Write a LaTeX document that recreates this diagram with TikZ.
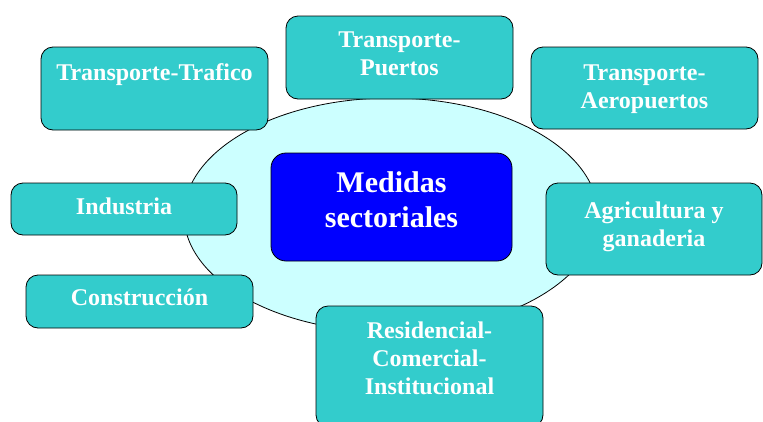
\documentclass[tikz,border=0pt]{standalone}
\usepackage{fontspec}
\setmainfont{Liberation Serif}
\usepackage{xcolor}
\definecolor{sectorteal}{HTML}{33CCCC}
\definecolor{hubcyan}{HTML}{CCFFFF}
\definecolor{hubblue}{HTML}{0000FF}
\tikzset{sector/.style={draw=black, fill=sectorteal, line width=.8pt, rounded corners=12pt,
  text=white, align=center, inner sep=0pt, font=\bfseries\fontsize{24}{28}\selectfont}}
\tikzset{hub/.style={draw=black, fill=hubblue, line width=.8pt, rounded corners=15pt,
  text=white, align=center, inner sep=0pt, font=\bfseries\fontsize{30}{35}\selectfont}}

\begin{document}
\begin{tikzpicture}[x=1pt,y=-1pt]
\clip (0,0) rectangle (763,421);
% ellipse behind the sectors
\filldraw[fill=hubcyan, draw=black, line width=.8pt] (391,215) ellipse [x radius=207, y radius=117];
\node[hub, minimum width=241pt, minimum height=108pt] (medidas) at (391.5,207) {Medidas\\sectoriales\\[-20pt]\mbox{}};
% sectors
\node[sector, minimum width=227pt, minimum height=83pt] (trafico) at (154.5,88.5) {Transporte-Trafico\\[4pt]\mbox{}};
\node[sector, minimum width=227pt, minimum height=83pt] (puertos) at (399.5,57.5) {Transporte-\\Puertos\\[-20pt]\mbox{}};
\node[sector, minimum width=227pt, minimum height=82pt] (aeropuertos) at (644.5,88) {Transporte-\\Aeropuertos\\[-25pt]\mbox{}};
\node[sector, minimum width=226pt, minimum height=52pt] (industria) at (124,209) {Industria\\[-22pt]\mbox{}};
\node[sector, minimum width=227pt, minimum height=53pt] (construccion) at (139.5,301.5) {Construcción\\[-20pt]\mbox{}};
\node[sector, minimum width=216pt, minimum height=92pt] (agricultura) at (654,229) {Agricultura y\\ganaderia\\[-19pt]\mbox{}};
\node[sector, minimum width=227pt, minimum height=121pt] (residencial) at (429.5,366.5) {Residencial-\\Comercial-\\Institucional\\[-11pt]\mbox{}};
\end{tikzpicture}
\end{document}
